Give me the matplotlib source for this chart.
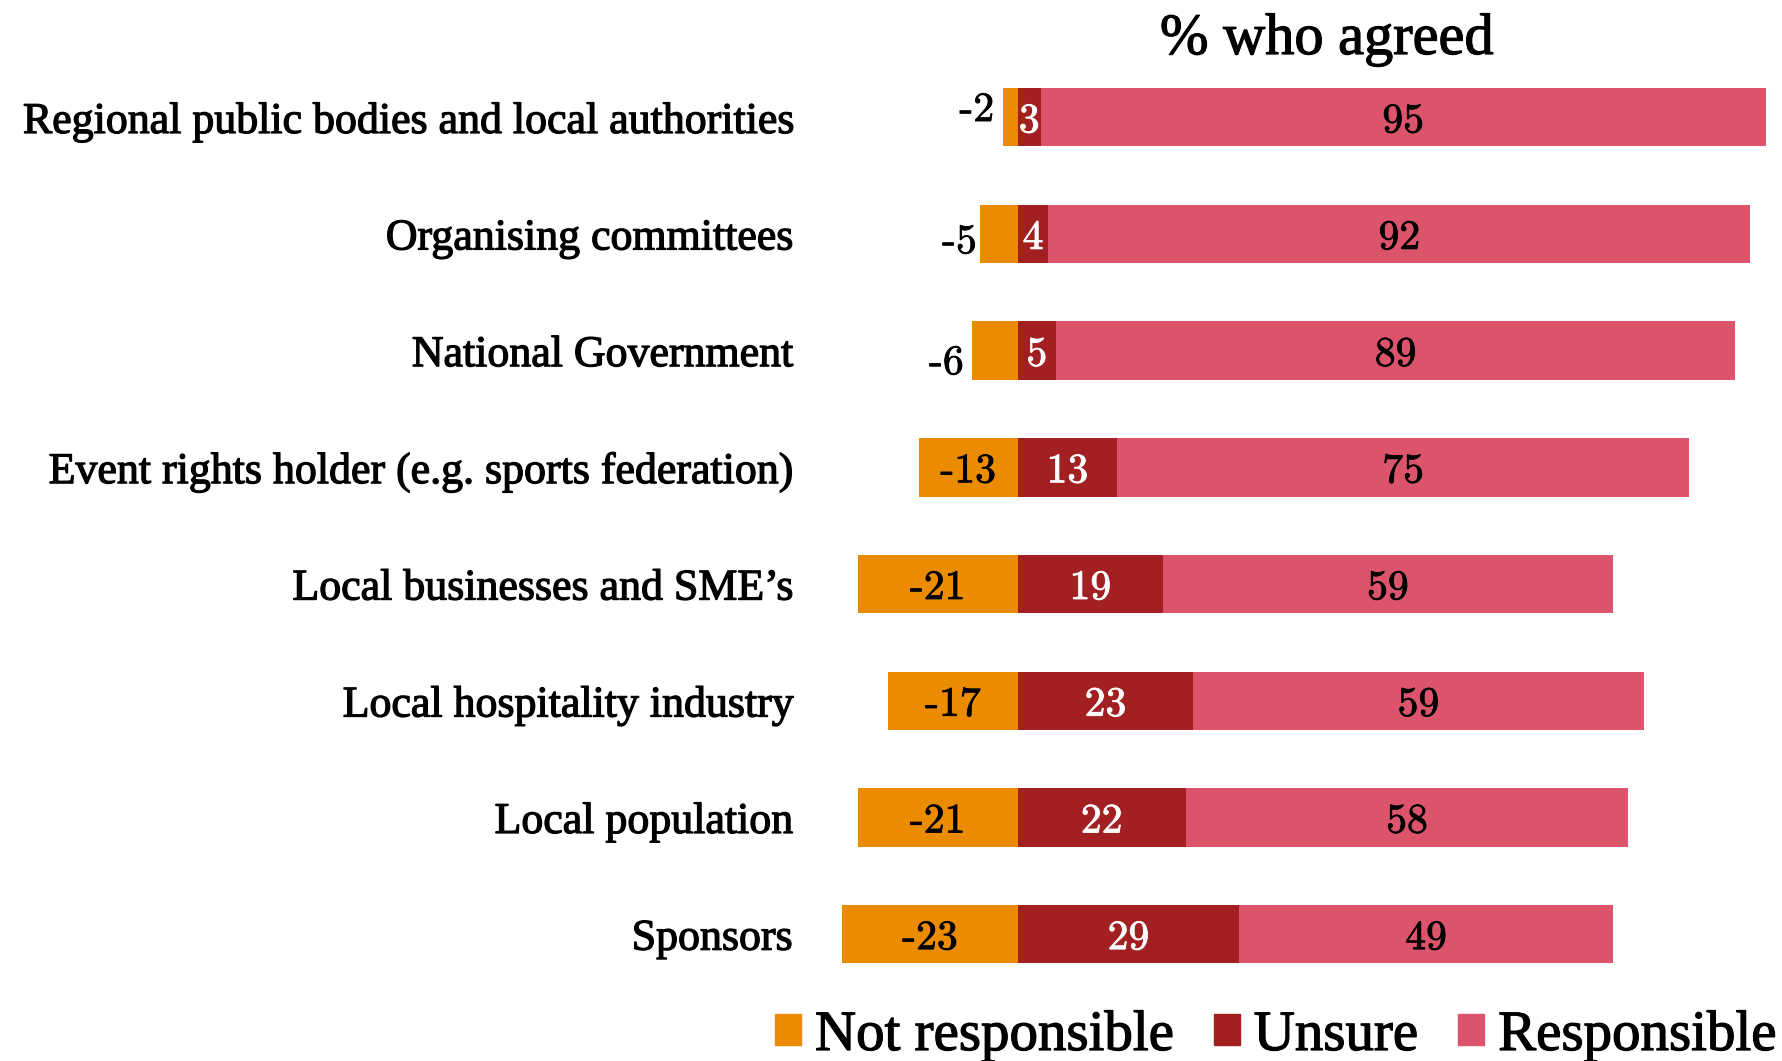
import matplotlib.pyplot as plt
import matplotlib.patheffects as pe
from matplotlib.patches import Patch

# 各主体的回答比例（%）
categories = ["Regional public bodies and local authorities", "Organising committees",
              "National Government", "Event rights holder (e.g. sports federation)",
              "Local businesses and SME’s", "Local hospitality industry",
              "Local population", "Sponsors"]
not_responsible = [-2, -5, -6, -13, -21, -17, -21, -23]
unsure = [3, 4, 5, 13, 19, 23, 22, 29]
responsible = [95, 92, 89, 75, 59, 59, 58, 49]

c_not = '#EB8C00'
c_unsure = '#A21F22'
c_resp = '#DC546B'
serif = 'Liberation Serif'
num_font = 'cmr10'
heavy = [pe.withStroke(linewidth=0.9, foreground='black')]

fig = plt.figure(figsize=(17.82, 10.61), dpi=100)
ax = fig.add_axes([0.4641, 0.0645, 0.5310, 0.880])

y = range(len(categories))
h = 0.5
ax.barh(y, not_responsible, height=h, color=c_not)
ax.barh(y, unsure, height=h, color=c_unsure)
ax.barh(y, responsible, left=unsure, height=h, color=c_resp)


def label(x, i, s, color, dx=0, dy=-3, ha='center'):
    ax.annotate(s, (x, i), xytext=(dx, dy), textcoords='offset points', ha=ha, va='center',
                fontsize=30, family=num_font, color=color,
                path_effects=[pe.withStroke(linewidth=0.6, foreground=color)])


# 数值标签：小数值放在条形左侧
small_offsets = {0: (-6, 5), 1: (-2, -6), 2: (-6, -9)}
for i in y:
    nv, uv, rv = not_responsible[i], unsure[i], responsible[i]
    if i in small_offsets:
        dx, dy = small_offsets[i]
        label(nv, i, str(nv), 'black', dx=dx, dy=dy, ha='right')
    else:
        label(nv / 2, i, str(nv), 'black')
    label(uv / 2, i, str(uv), 'white')
    label(uv + rv / 2, i, str(rv), 'black')

ax.set_xlim(-25, 99)
ax.set_ylim(7.5, -0.5)
ax.set_yticks(list(y))
ax.set_yticklabels(categories, fontsize=31.6, family=serif)
for t in ax.get_yticklabels():
    t.set_path_effects(heavy)
ax.set_xticks([])
ax.tick_params(axis='y', length=0, pad=25)
for s in ax.spines.values():
    s.set_visible(False)

fig.text(1327 / 1782, 1 - 40 / 1061, '% who agreed', ha='center', va='center',
         fontsize=42, family=serif, path_effects=heavy)

handles = [Patch(color=c_not), Patch(color=c_unsure), Patch(color=c_resp)]
leg = fig.legend(handles, ['Not responsible', 'Unsure', 'Responsible'], loc='center right',
                 bbox_to_anchor=(0.997, 1 - 1036 / 1061), ncol=3, frameon=False,
                 prop={'family': serif, 'size': 41}, handlelength=0.46, handleheight=0.46,
                 handletextpad=0.24, columnspacing=0.7, borderaxespad=0, borderpad=0)
for t in leg.get_texts():
    t.set_path_effects(heavy)

plt.savefig('out.png')
